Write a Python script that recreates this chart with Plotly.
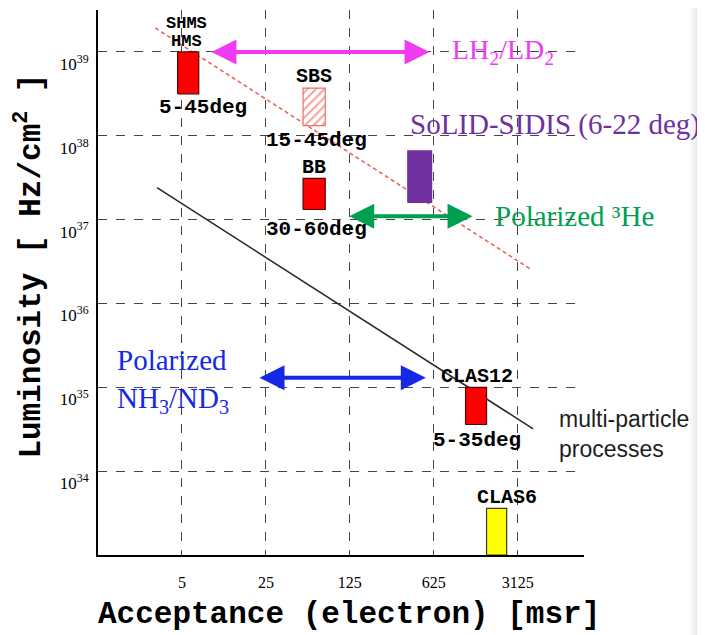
import numpy as np
import plotly.graph_objects as go

# detector boxes: acceptance range [msr] x luminosity range [Hz/cm^2]
box_names = ["SHMS/HMS", "SBS", "BB", "SoLID-SIDIS", "CLAS12", "CLAS6"]
box_acc_lo = [4.6, 51, 51, 380, 1150, 1720]
box_acc_hi = [6.9, 78, 78, 600, 1720, 2530]
box_lum_lo = [3.16e38, 1.32e38, 1.32e37, 1.6e37, 3.6e34, 1e33]
box_lum_hi = [1e39, 3.7e38, 3.1e37, 6.6e37, 1e35, 3.6e33]

# multi-particle processes limit (black) and max luminosity (red dashed)
mp_acc = [3.1, 4200]
mp_lum = [2.4e37, 3.2e34]
lim_acc = [3.0, 3950]
lim_lum = [1.93e39, 2.6e36]

# target ranges (double arrows)
tgt_names = ["LH<sub>2</sub>/LD<sub>2</sub>", "Polarized ³He", "Polarized<br>NH<sub>3</sub>/ND<sub>3</sub>"]
tgt_acc_lo = [8.55, 120, 21.5]
tgt_acc_hi = [577, 1316, 537]
tgt_lum = [1e39, 1.1e37, 1.3e35]

x_ticks = [5, 25, 125, 625, 3125]
y_ticks = [1e34, 1e35, 1e36, 1e37, 1e38, 1e39]
y_ticktext = ["10<sup>34</sup>", "10<sup>35</sup>", "10<sup>36</sup>",
              "10<sup>37</sup>", "10<sup>38</sup>", "10<sup>39</sup>"]

L = np.log10
mono = "Liberation Mono"
serif = "Liberation Serif"

box_fill = ["rgb(255,0,0)", "white", "rgb(255,0,0)", "rgb(112,48,160)", "rgb(255,0,0)", "rgb(255,255,0)"]
box_line = ["rgb(90,0,0)", "rgb(240,110,100)", "rgb(90,0,0)", "rgb(112,48,160)", "rgb(90,0,0)", "rgb(60,60,0)"]

fig = go.Figure()

fig.add_trace(go.Scatter(x=lim_acc, y=lim_lum, mode="lines",
                         line=dict(color="rgb(240,90,80)", width=1.5, dash="4px,3px"),
                         hoverinfo="skip"))
fig.add_trace(go.Scatter(x=mp_acc, y=mp_lum, mode="lines",
                         line=dict(color="rgb(40,40,40)", width=1.5), hoverinfo="skip"))

for i, n in enumerate(box_names):
    x0, x1 = box_acc_lo[i], box_acc_hi[i]
    y0, y1 = box_lum_lo[i], box_lum_hi[i]
    kw = {}
    if n == "SBS":
        kw["fillpattern"] = dict(shape="/", fgcolor="rgb(235,70,60)", bgcolor="white",
                                 size=6, solidity=0.35)
    fig.add_trace(go.Scatter(x=[x0, x1, x1, x0, x0], y=[y0, y0, y1, y1, y0],
                             mode="lines", fill="toself", fillcolor=box_fill[i],
                             line=dict(color=box_line[i], width=1.2),
                             name=n, hoverinfo="skip", **kw))

arrow_cols = ["rgb(240,60,240)", "rgb(0,160,80)", "rgb(20,40,230)"]
for i in range(3):
    fig.add_annotation(x=L(tgt_acc_hi[i]), y=L(tgt_lum[i]), ax=L(tgt_acc_lo[i]), ay=L(tgt_lum[i]),
                       xref="x", yref="y", axref="x", ayref="y", text="",
                       showarrow=True, arrowhead=2, startarrowhead=2, arrowside="end+start",
                       arrowsize=1.25, startarrowsize=1.25, arrowwidth=4, arrowcolor=arrow_cols[i],
                       standoff=0, startstandoff=0)

def label(x, y, text, font, size, color="black", xanchor="center", bold=False):
    if bold:
        text = "<b>" + text + "</b>"
    fig.add_annotation(x=L(x), y=L(y), text=text, showarrow=False, xanchor=xanchor,
                       font=dict(family=font, size=size, color=color), align="left")

# colored target labels
label(847, 1e39, tgt_names[0], serif, 28, arrow_cols[0], "left")
label(1943, 1.1e37, tgt_names[1], serif, 29, arrow_cols[1], "left")
label(1.38, 1.2e35, tgt_names[2], serif, 29, arrow_cols[2], "left")
label(379, 1.35e38, "SoLID-SIDIS (6-22 deg)", serif, 29, "rgb(112,48,160)", "left")

# detector labels
label(5.5, 2.2e39, "SHMS", mono, 17, bold=True)
label(5.5, 1.35e39, "HMS", mono, 17, bold=True)
label(7.5, 2.15e38, "5-45deg", mono, 21, bold=True)
label(63, 5.1e38, "SBS", mono, 20, bold=True)
label(66, 8.7e37, "15-45deg", mono, 21, bold=True)
label(63, 4.2e37, "BB", mono, 20, bold=True)
label(66, 7.6e36, "30-60deg", mono, 21, bold=True)
label(1420, 1.35e35, "CLAS12", mono, 20, bold=True)
label(1420, 2.35e34, "5-35deg", mono, 21, bold=True)
label(2530, 4.9e33, "CLAS6", mono, 20, bold=True)
label(6610, 2.8e34, "multi-particle<br>processes", "Liberation Sans", 23, "rgb(30,30,30)", "left")

# axis titles
fig.add_annotation(xref="paper", yref="paper", x=0.516, y=-0.110, showarrow=False,
                   xanchor="center", yanchor="middle",
                   text="<b>Acceptance (electron) [msr]</b>",
                   font=dict(family=mono, size=31, color="black"))
fig.add_annotation(xref="paper", yref="paper", x=-0.141, y=0.530, showarrow=False, textangle=-90,
                   xanchor="center", yanchor="middle",
                   text="<b>Luminosity [ Hz/cm<sup>2</sup> ]</b>",
                   font=dict(family=mono, size=31, color="black"))

# light gray strip at the right edge of the screenshot
for k, c in enumerate(["#f7f7f7", "#efefef", "#eaeaea"]):
    fig.add_shape(type="rect", xref="paper", yref="paper", x0=1.218 + k * 0.006, x1=1.26,
                  y0=-0.2, y1=1.03, fillcolor=c, line_width=0, layer="below")

grid = dict(showgrid=True, gridcolor="rgb(70,70,70)", gridwidth=1.3, griddash="dash")
# the page body adds 8px, so the figure is laid out 8px smaller / shifted
fig.update_layout(
    width=697, height=627,
    margin=dict(l=90, r=121, t=2, b=80),
    paper_bgcolor="white", plot_bgcolor="white",
    showlegend=False, hovermode=False,
    xaxis=dict(type="log", range=[0, 4.047], tickvals=x_ticks, ticktext=[str(v) for v in x_ticks],
               ticks="", ticklabelstandoff=12, showline=True, linecolor="black", linewidth=2,
               zeroline=False, automargin=False, tickfont=dict(family=serif, size=16, color="black"),
               **grid),
    yaxis=dict(type="log", range=[33, 39.5], tickvals=y_ticks, ticktext=y_ticktext,
               ticks="", ticklabelstandoff=4, ticklabelshift=12, showline=True, linecolor="black",
               linewidth=2, zeroline=False, automargin=False,
               tickfont=dict(family=serif, size=17, color="black"),
               **grid),
)

fig.write_html("out.html")
